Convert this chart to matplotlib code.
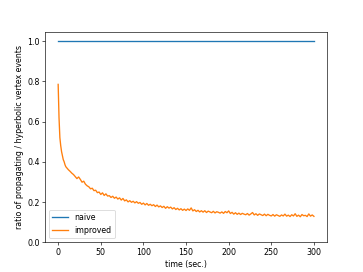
import numpy as np
import matplotlib
matplotlib.use("Agg")
import matplotlib.pyplot as plt

# early samples (every second, 0..9)
t_early = [0, 1, 2, 3, 4, 5, 6, 7, 8, 9]
v_early = [0.785, 0.62, 0.52, 0.48, 0.45, 0.43, 0.41, 0.40, 0.385, 0.375]

# later samples (every 2 seconds, 10..300)
t_late = list(range(10, 301, 2))
v_late = [
    .370, .360, .352, .343, .336,
    .326, .316, .324, .312, .298,
    .303, .288, .280, .275, .265,
    .268, .256, .258, .246, .249,
    .237, .245, .232, .240, .229,
    .231, .222, .228, .218, .224,
    .214, .220, .209, .217, .205,
    .210, .200, .206, .198, .203,
    .195, .201, .193, .197, .188,
    .194, .185, .192, .183, .188,
    .181, .186, .177, .184, .175,
    .180, .172, .178, .168, .176,
    .169, .174, .165, .171, .162,
    .168, .160, .166, .158, .164,
    .157, .165, .158, .170, .155,
    .161, .152, .158, .150, .156,
    .149, .156, .147, .154, .150,
    .146, .153, .145, .151, .148,
    .144, .150, .143, .152, .146,
    .155, .142, .148, .139, .146,
    .138, .144, .137, .143, .139,
    .136, .142, .134, .140, .147,
    .135, .141, .133, .140, .136,
    .132, .139, .131, .138, .133,
    .130, .137, .129, .136, .132,
    .128, .135, .130, .139, .129,
    .134, .127, .136, .130, .141,
    .128, .134, .126, .137, .131,
    .133, .127, .140, .129, .135,
    .128,
]

t_improved = t_early + t_late
v_improved = v_early + v_late
t_naive = t_improved
v_naive = [1.0] * len(t_naive)

fig = plt.figure(figsize=(6.4, 4.8), dpi=363 / 6.4)
ax = fig.add_subplot(111)
ax.plot(t_naive, v_naive, label="naive", lw=1.7)
ax.plot(t_improved, v_improved, label="improved", lw=1.7)
ax.set_ylim(bottom=0)
ax.set_xlabel("time (sec.)")
ax.set_ylabel("ratio of propagating / hyperbolic vertex events")
ax.legend(loc="lower left")
fig.savefig("out.png", dpi=363 / 6.4)
